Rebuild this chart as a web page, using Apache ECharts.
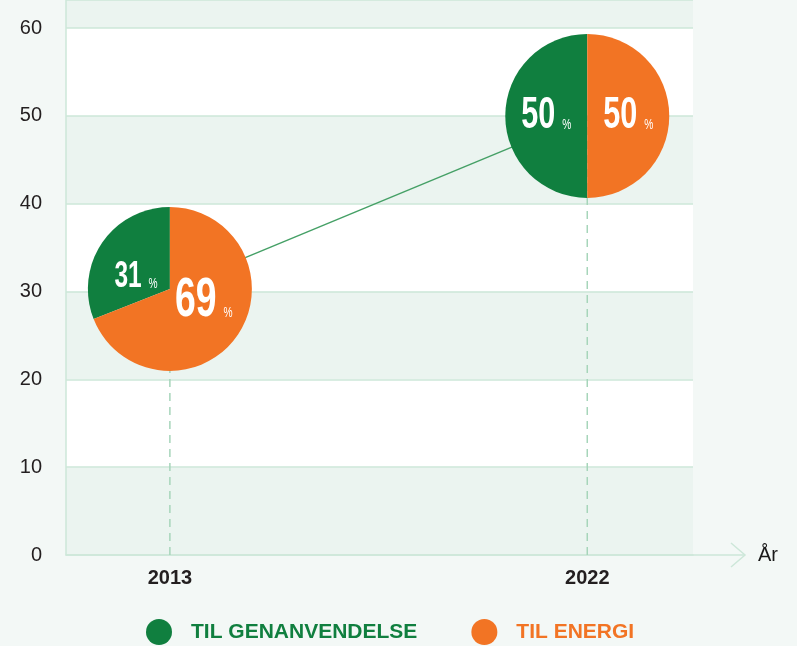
<!DOCTYPE html>
<html>
<head>
<meta charset="utf-8">
<script src="https://cdn.jsdelivr.net/npm/echarts@6/dist/echarts.min.js"></script>
<style>
html,body{margin:0;padding:0;background:#f3f8f6;}
#main{width:797px;height:646px;}
</style>
</head>
<body>
<div id="main"></div>
<script>
// data
var years = [2013, 2022];
var levels = [30.3, 50];          // where each pie sits on the y axis
var genanvendelse = [31, 50];     // % til genanvendelse
var energi = [69, 50];            // % til energi
var yTicks = [0, 10, 20, 30, 40, 50, 60];
var names = ['TIL GENANVENDELSE', 'TIL ENERGI'];

var GREEN = '#107f3f', ORANGE = '#f27424';
var GRID_LINE = '#cde7d9';
var xMin = 2010.76, xMax = 2024.28;
var PIE_R = 82;

var myChart = echarts.init(document.getElementById('main'));

// one half of each pie: green goes counter-clockwise from 12 o'clock, orange clockwise
function pieRender(ccw){
	return function(params, api){
		var c = api.coord([api.value(0), api.value(1)]);
		var pct = api.value(2);
		var sweep = Math.PI * 2 * pct / 100;
		var top = -Math.PI / 2;
		var start = ccw ? top - sweep : top;
		var end = ccw ? top : top + sweep;
		var mid = (start + end) / 2;
		var size = Math.round(20 + pct * 0.5);
		return {
			type: 'group',
			children: [{
				type: 'sector',
				shape: { cx: c[0], cy: c[1], r0: 0, r: PIE_R, startAngle: start, endAngle: end, clockwise: true },
				style: { fill: api.visual('color') }
			}, {
				type: 'text',
				x: c[0] + Math.cos(mid) * PIE_R * 0.5,
				y: c[1] + Math.sin(mid) * PIE_R * 0.25,
				scaleX: 0.68,
				style: {
					text: '{n|' + pct + '}{p|%}',
					align: 'center',
					verticalAlign: 'middle',
					rich: {
						n: { fontSize: size, fontWeight: 'bold', fill: '#fff', fontFamily: 'Liberation Sans, Arial, sans-serif', verticalAlign: 'bottom' },
						p: { fontSize: 15, fill: '#fff', fontFamily: 'Liberation Sans, Arial, sans-serif', verticalAlign: 'bottom', padding: [0, 0, Math.round((size - 15) * 0.2), 10] }
					}
				}
			}]
		};
	};
}

var series = [];
// line between the two pies
series.push({
	type: 'line',
	silent: true,
	z: 1,
	symbol: 'none',
	lineStyle: { color: '#45a066', width: 1.5 },
	data: years.map(function(y, i){ return [y, levels[i]]; })
});
// dashed guides down to the axis
years.forEach(function(y, i){
	series.push({
		type: 'line',
		silent: true,
		z: 1,
		symbol: 'none',
		lineStyle: { color: '#a6d5ba', width: 1.5, type: [8, 6] },
		data: [[y, 0], [y, levels[i]]]
	});
});
series.push({
	name: names[0],
	type: 'custom',
	z: 3,
	silent: true,
	itemStyle: { color: GREEN },
	encode: { x: 0, y: 1 },
	renderItem: pieRender(true),
	data: years.map(function(y, i){ return [y, levels[i], genanvendelse[i]]; })
});
series.push({
	name: names[1],
	type: 'custom',
	z: 3,
	silent: true,
	itemStyle: { color: ORANGE },
	encode: { x: 0, y: 1 },
	renderItem: pieRender(false),
	data: years.map(function(y, i){ return [y, levels[i], energi[i]]; })
});

var option = {
	backgroundColor: '#f3f8f6',
	animation: false,
	grid: { left: 66, right: 104, top: -1, bottom: 91 },
	xAxis: {
		type: 'value',
		min: xMin,
		max: xMax,
		name: 'År',
		nameLocation: 'end',
		nameGap: 65,
		nameTextStyle: { fontSize: 20, color: '#1a1a1a', fontFamily: 'Liberation Sans, Arial, sans-serif', verticalAlign: 'middle' },
		axisLine: { show: true, onZero: false, lineStyle: { color: GRID_LINE, width: 1.5 } },
		axisTick: { show: false },
		splitLine: { show: false },
		axisLabel: {
			customValues: years,
			formatter: function(v){ return String(Math.round(v)); },
			fontSize: 20,
			fontWeight: 'bold',
			color: '#231f20',
			margin: 13,
			fontFamily: 'Liberation Sans, Arial, sans-serif'
		}
	},
	yAxis: {
		type: 'value',
		min: 0,
		max: 63.2,
		interval: 10,
		axisLine: { show: true, lineStyle: { color: GRID_LINE, width: 1.5 } },
		axisTick: { show: false },
		axisLabel: {
			formatter: function(v){ return yTicks.indexOf(v) >= 0 ? String(v) : ''; },
			fontSize: 20,
			color: '#231f20',
			margin: 24,
			fontFamily: 'Liberation Sans, Arial, sans-serif'
		},
		splitLine: { show: true, lineStyle: { color: GRID_LINE, width: 1.5 } },
		splitArea: { show: true, areaStyle: { color: ['#ebf4f0', '#ffffff'] } }
	},
	legend: {
		left: 141,
		top: 614,
		icon: 'circle',
		itemWidth: 26,
		itemHeight: 26,
		itemGap: 54,
		selectedMode: false,
		textStyle: { fontSize: 21, fontWeight: 'bold', fontFamily: 'Liberation Sans, Arial, sans-serif', padding: [0, 0, 0, 14] },
		data: [
			{ name: names[0], itemStyle: { color: GREEN }, textStyle: { color: GREEN } },
			{ name: names[1], itemStyle: { color: ORANGE }, textStyle: { color: ORANGE } }
		]
	},
	series: series
};
myChart.setOption(option);

// x axis runs on past the plot and ends in an open arrow
var end = myChart.convertToPixel({ gridIndex: 0 }, [xMax, 0]);
myChart.setOption({
	graphic: [
		{ type: 'line', silent: true, shape: { x1: end[0], y1: end[1], x2: end[0] + 52, y2: end[1] }, style: { stroke: GRID_LINE, lineWidth: 1.5 } },
		{ type: 'polyline', silent: true, shape: { points: [[end[0] + 38, end[1] - 12], [end[0] + 52, end[1]], [end[0] + 38, end[1] + 12]] }, style: { stroke: GRID_LINE, lineWidth: 1.5, fill: null } }
	]
});
</script>
</body>
</html>
